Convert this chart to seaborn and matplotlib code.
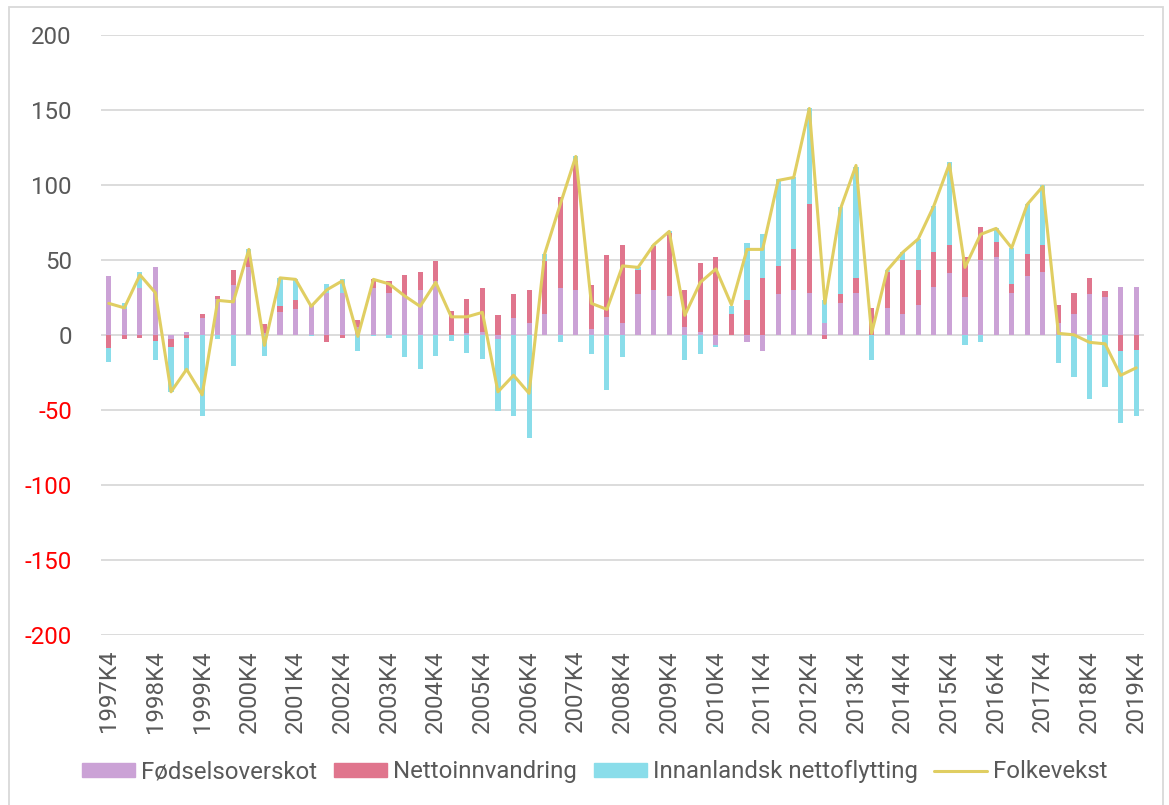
import numpy as np
import matplotlib
matplotlib.use("Agg")
import matplotlib.pyplot as plt
import seaborn as sns
from matplotlib.patches import Patch, Rectangle
from matplotlib.lines import Line2D

# quarterly values, 1997K4 .. 2019K4 (three bars per year)
fodselsoverskot = [39, 17, 31, 45, -3, 2, 11, 24, 33, 45,
                   1, 15, 17, 20, 28, 28, 5, 31, 28, 26,
                   30, 36, 0, 1, 2, -3, 11, 8, 14, 31,
                   30, 4, 12, 8, 27, 30, 26, 5, 2, -7,
                   0, -5, -11, 27, 30, 28, 8, 21, 28, 0,
                   18, 14, 20, 32, 41, 25, 50, 52, 28, 39,
                   42, 8, 14, 27, 25, 32, 32]
nettoinnvandring = [-9, -3, -2, -4, -5, -2, 3, 2, 10, 8,
                    6, 4, 6, 0, -5, -2, 5, 6, 8, 14,
                    12, 13, 16, 23, 29, 13, 16, 22, 35, 61,
                    86, 29, 41, 52, 16, 29, 42, 25, 46, 52,
                    14, 23, 38, 19, 27, 59, -3, 6, 10, 18,
                    24, 36, 23, 23, 19, 27, 22, 10, 6, 15,
                    18, 12, 14, 11, 4, -11, -10]
innanlandsk = [-9, 4, 11, -13, -30, -23, -54, -3, -21, 4,
               -14, 19, 14, -1, 6, 9, -11, -1, -2, -15,
               -23, -14, -4, -12, -16, -48, -54, -69, 5, -5,
               3, -13, -37, -15, 2, 1, 1, -17, -13, -1,
               5, 38, 29, 58, 48, 64, 15, 58, 74, -17,
               1, 5, 21, 31, 55, -7, -5, 9, 24, 33,
               40, -19, -28, -43, -35, -48, -44]
folkevekst = [21, 18, 40, 28, -38, -23, -40, 23, 22, 57,
              -7, 38, 37, 19, 30, 36, -1, 37, 34, 26,
              19, 35, 12, 12, 15, -38, -27, -39, 54, 87,
              119, 21, 17, 46, 45, 60, 69, 13, 35, 44,
              20, 57, 57, 103, 105, 151, 21, 84, 113, 1,
              43, 55, 64, 86, 114, 45, 67, 71, 58, 87,
              99, 1, 0, -5, -6, -27, -22]

tick_labels = ["1997K4", "1998K4", "1999K4", "2000K4", "2001K4", "2002K4",
               "2003K4", "2004K4", "2005K4", "2006K4", "2007K4", "2008K4",
               "2009K4", "2010K4", "2011K4", "2012K4", "2013K4", "2014K4",
               "2015K4", "2016K4", "2017K4", "2018K4", "2019K4"]

series_names = ["Fødselsoverskot", "Nettoinnvandring", "Innanlandsk nettoflytting"]
colors = ["#CBA2D6", "#E0758D", "#8ADDEA"]
line_color = "#E0CE62"
text_color = "#595959"

sns.set_theme(style="white")
plt.rcParams["font.family"] = ["Roboto", "DejaVu Sans"]
plt.rcParams["axes.unicode_minus"] = False

fig = plt.figure(figsize=(11.69, 8.05), dpi=100)
ax = fig.add_axes([0.0864, 0.2116, 0.8922, 0.7449])

x = np.arange(len(folkevekst))
pos_bottom = np.zeros(len(x))
neg_bottom = np.zeros(len(x))
for vals, col in zip([fodselsoverskot, nettoinnvandring, innanlandsk], colors):
    v = np.array(vals, dtype=float)
    bottom = np.where(v >= 0, pos_bottom, neg_bottom)
    ax.bar(x, v, bottom=bottom, width=0.33, color=col, edgecolor="none", zorder=2)
    pos_bottom += np.clip(v, 0, None)
    neg_bottom += np.clip(v, None, 0)

sns.lineplot(x=x, y=folkevekst, ax=ax, color=line_color, linewidth=2.2, zorder=3)

ax.set_xlim(-0.5, len(x) - 0.5)
ax.set_ylim(-200, 200)
ax.set_yticks(np.arange(-200, 201, 50))
ax.yaxis.grid(True, color="#D9D9D9", linewidth=1.3, zorder=0)
ax.set_axisbelow(True)
for s in ax.spines.values():
    s.set_visible(False)

ax.set_xticks(x[::3])
ax.set_xticklabels(tick_labels, rotation=90, fontsize=17.3, color=text_color)
ax.tick_params(axis="x", length=0, pad=11)
ax.tick_params(axis="y", length=0, pad=21, labelsize=17.3)
for lab, val in zip(ax.get_yticklabels(), ax.get_yticks()):
    lab.set_color("#FF0000" if val < 0 else text_color)

handles = [Patch(color=c) for c in colors] + [Line2D([], [], color=line_color, linewidth=2.2)]
fig.legend(handles, series_names + ["Folkevekst"], loc="center", bbox_to_anchor=(0.509, 0.041),
           ncol=4, frameon=False, fontsize=17.3, labelcolor=text_color,
           handlelength=2.2, handleheight=0.55, handletextpad=0.25, columnspacing=0.7)

fig.patches.append(Rectangle((9 / 1169, -0.01), 1154 / 1169, 1.01 - 7 / 805,
                             transform=fig.transFigure, fill=False,
                             edgecolor="#D9D9D9", linewidth=1.3))

fig.savefig("out.png", dpi=100)
